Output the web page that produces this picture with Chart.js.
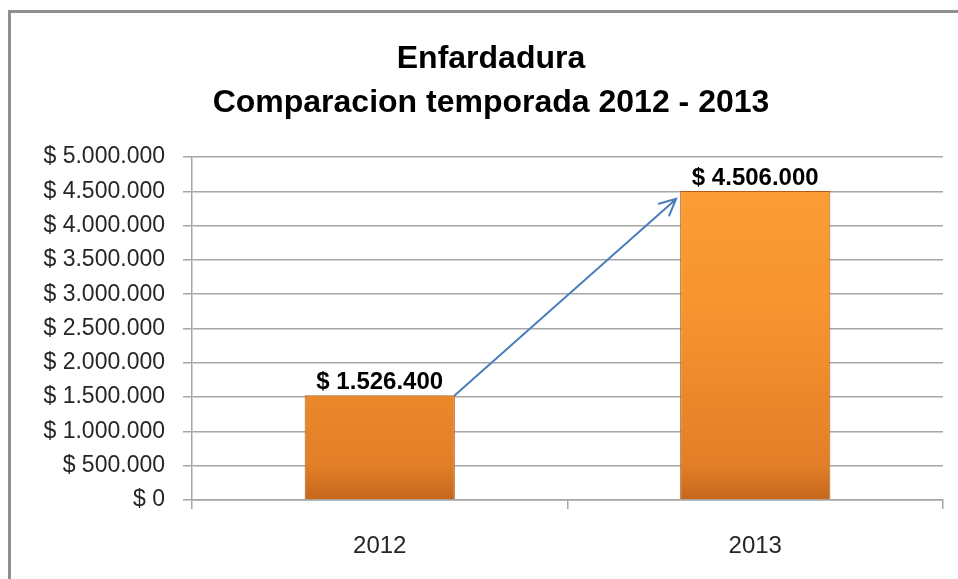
<!DOCTYPE html>
<html>
<head>
<meta charset="utf-8">
<script src="https://cdn.jsdelivr.net/npm/chart.js@4"></script>
<style>
  html, body { margin: 0; padding: 0; background: #fff; }
  #wrap { position: relative; width: 958px; height: 579px; }
  #frame { position: absolute; left: 8px; top: 10px; width: 960px; height: 580px;
           border-top: 3px solid #8f8f8f; border-left: 3px solid #8f8f8f; pointer-events: none; }
  canvas { position: absolute; left: 0; top: 0; }
</style>
</head>
<body>
<div id="wrap">
  <canvas id="c" width="958" height="579"></canvas>
  <div id="frame"></div>
</div>
<script>
const categories = ['2012', '2013'];
const values = [1526400, 4506000];
const titleLines = ['Enfardadura', 'Comparacion temporada 2012 - 2013'];
const yMax = 5000000;
const yStep = 500000;

function money(v) {
  const s = Math.round(v).toString().replace(/\B(?=(\d{3})+(?!\d))/g, '.');
  return '$ ' + s;
}

const FONT = "'Liberation Sans', Arial, sans-serif";

const barFill = (ctx) => {
  const chart = ctx.chart;
  const area = chart.chartArea;
  if (!area) return '#F7922C';
  const el = ctx.element;
  const c = chart.ctx;
  const top = el && el.y !== undefined ? el.y : area.top;
  const g = c.createLinearGradient(0, top, 0, area.bottom);
  g.addColorStop(0, '#FFBE5A');
  g.addColorStop(0.03, '#FC9E36');
  g.addColorStop(0.45, '#F69430');
  g.addColorStop(0.9, '#E27E27');
  g.addColorStop(1, '#C4661C');
  return g;
};

const valueLabels = {
  id: 'valueLabels',
  afterDatasetsDraw(chart) {
    const ctx = chart.ctx;
    const meta = chart.getDatasetMeta(0);
    ctx.save();
    ctx.font = "bold 24px " + FONT;
    ctx.fillStyle = '#000';
    ctx.textAlign = 'center';
    ctx.textBaseline = 'alphabetic';
    meta.data.forEach((el, i) => {
      ctx.fillText(money(values[i]), el.x, el.y - 6);
    });
    ctx.restore();
  }
};

const arrowPlugin = {
  id: 'arrow',
  afterDatasetsDraw(chart) {
    const meta = chart.getDatasetMeta(0);
    const a = meta.data[0], b = meta.data[1];
    const x0 = a.x + a.width / 2, y0 = a.y;
    const x1 = b.x - b.width / 2 - 4, y1 = b.y + 8;
    const ctx = chart.ctx;
    ctx.save();
    ctx.strokeStyle = '#4A7EBB';
    ctx.lineWidth = 2;
    ctx.lineCap = 'round';
    ctx.beginPath();
    ctx.moveTo(x0, y0);
    ctx.lineTo(x1, y1);
    const ang = Math.atan2(y1 - y0, x1 - x0);
    const L = 18, spread = 0.45;
    ctx.moveTo(x1 - L * Math.cos(ang - spread), y1 - L * Math.sin(ang - spread));
    ctx.lineTo(x1, y1);
    ctx.lineTo(x1 - L * Math.cos(ang + spread), y1 - L * Math.sin(ang + spread));
    ctx.stroke();
    ctx.restore();
  }
};

new Chart(document.getElementById('c'), {
  type: 'bar',
  data: {
    labels: categories,
    datasets: [{
      data: values,
      backgroundColor: barFill,
      borderColor: '#B35A16',
      borderWidth: 1,
      barPercentage: 0.8,
      categoryPercentage: 0.5
    }]
  },
  options: {
    responsive: false,
    animation: false,
    layout: { padding: { left: 39, right: 15, top: 0, bottom: 0 } },
    plugins: {
      legend: { display: false },
      tooltip: { enabled: false },
      title: {
        display: true,
        text: titleLines,
        color: '#000',
        font: { family: FONT, size: 32, weight: 'bold', lineHeight: 1.375 },
        padding: { top: 37, bottom: 32 }
      }
    },
    scales: {
      x: {
        grid: { display: true, drawOnChartArea: false, drawTicks: true, tickLength: 9, color: '#a6a6a6', lineWidth: 1.5, offset: true },
        border: { display: true, color: '#a6a6a6', width: 1.5 },
        ticks: { color: '#262626', font: { family: FONT, size: 24 }, padding: 23 },
        afterFit(scale) { scale.height = 79; }
      },
      y: {
        min: 0,
        max: yMax,
        ticks: {
          stepSize: yStep,
          color: '#262626',
          font: { family: FONT, size: 23 },
          padding: 18,
          callback: (v) => money(v)
        },
        grid: { color: '#a6a6a6', lineWidth: 1.5, tickLength: 9 },
        border: { display: true, color: '#a6a6a6', width: 1.5 },
        afterFit(scale) { scale.width = 153; }
      }
    }
  },
  plugins: [valueLabels, arrowPlugin]
});
</script>
</body>
</html>
